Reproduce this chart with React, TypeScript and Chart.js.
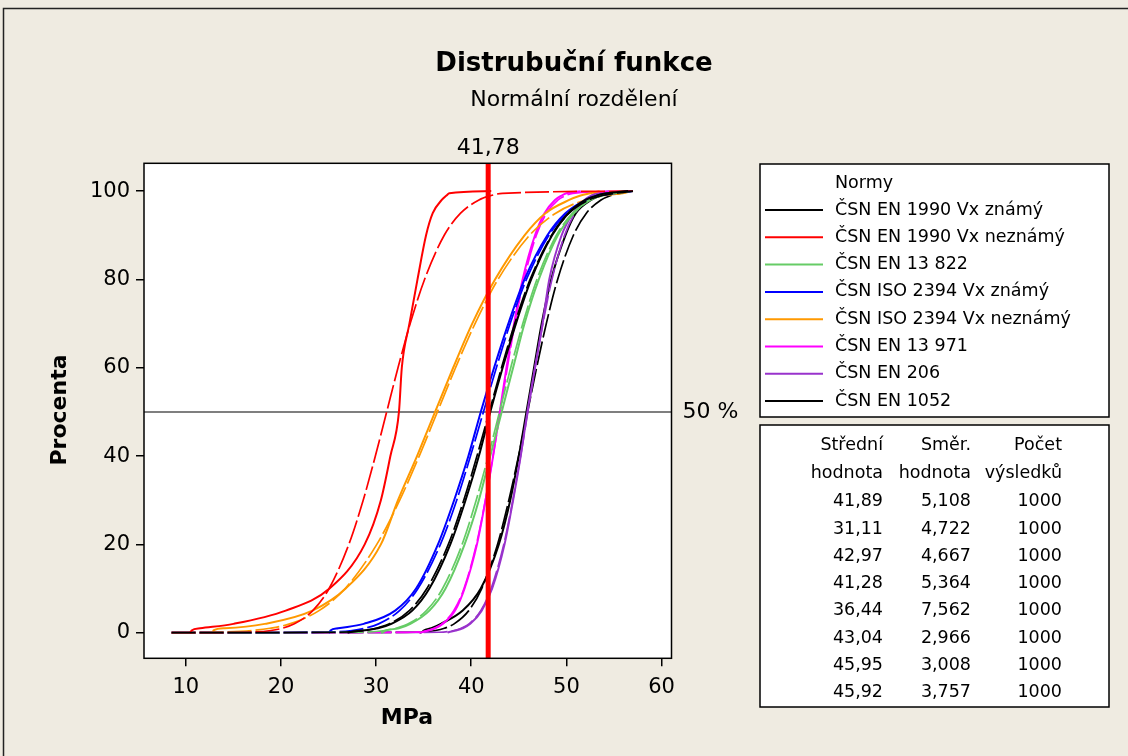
import React, { useEffect, useRef } from "react";
import { Chart, registerables } from "chart.js";

Chart.register(...registerables);

// ---------------- data ----------------
const pctLevels = [0, 0.1, 0.5, 1, 2, 5, 10, 20, 30, 40, 50, 60, 70, 80, 90, 95, 98, 99, 99.5, 100];

const seriesNames = [
  "ČSN EN 1990 Vx známý",
  "ČSN EN 1990 Vx neznámý",
  "ČSN EN 13 822",
  "ČSN ISO 2394 Vx známý",
  "ČSN ISO 2394 Vx neznámý",
  "ČSN EN 13 971",
  "ČSN EN 206",
  "ČSN EN 1052",
];
const seriesColors = ["#000000", "#FF0000", "#66CC66", "#0000FF", "#FF9900", "#FF00FF", "#9933CC", "#000000"];

const meanValues = ["41,89", "31,11", "42,97", "41,28", "36,44", "43,04", "45,95", "45,92"];
const stdValues = ["5,108", "4,722", "4,667", "5,364", "7,562", "2,966", "3,008", "3,757"];
const countValues = ["1000", "1000", "1000", "1000", "1000", "1000", "1000", "1000"];

// fitted normal curves: MPa at each percent level
const fitBlack1 = [8.5, 26.11, 28.73, 30.01, 31.4, 33.49, 35.34, 37.59, 39.21, 40.6, 41.89, 43.18, 44.57, 46.19, 48.44, 50.29, 52.38, 53.77, 55.05, 57];
const fitRed = [8.5, 16.52, 18.95, 20.13, 21.41, 23.34, 25.06, 27.13, 28.64, 29.92, 31.11, 32.3, 33.58, 35.09, 37.16, 38.88, 40.81, 42.09, 43.27, 57];
const fitGreen = [8.5, 28.55, 30.95, 32.11, 33.38, 35.29, 36.99, 39.04, 40.52, 41.79, 42.97, 44.15, 45.42, 46.9, 48.95, 50.65, 52.56, 53.83, 54.99, 57];
const fitBlue = [8.5, 24.71, 27.46, 28.8, 30.26, 32.46, 34.4, 36.76, 38.47, 39.92, 41.28, 42.64, 44.09, 45.8, 48.16, 50.1, 52.3, 53.76, 55.1, 57];
const fitOrange = [8.5, 13.07, 16.96, 18.85, 20.91, 24.0, 26.75, 30.07, 32.48, 34.53, 36.44, 38.35, 40.4, 42.81, 46.13, 48.88, 51.97, 54.03, 55.92, 57];
const fitMagenta = [8.5, 33.87, 35.4, 36.14, 36.95, 38.16, 39.24, 40.54, 41.49, 42.29, 43.04, 43.79, 44.59, 45.54, 46.84, 47.92, 49.13, 49.94, 50.68, 57];
const fitPurple = [8.5, 36.66, 38.2, 38.95, 39.77, 41.0, 42.09, 43.42, 44.37, 45.19, 45.95, 46.71, 47.53, 48.48, 49.81, 50.9, 52.13, 52.95, 53.7, 57];
const fitBlack2 = [8.5, 34.31, 36.24, 37.18, 38.2, 39.74, 41.1, 42.76, 43.95, 44.97, 45.92, 46.87, 47.89, 49.08, 50.74, 52.1, 53.64, 54.66, 55.6, 57];

// empirical curves: MPa at each percent level
const empBlack1 = [27.0, 27.2, 28.6, 30.2, 31.6, 33.8, 35.6, 37.8, 39.4, 40.8, 42.0, 43.3, 44.7, 46.3, 48.5, 50.2, 52.0, 53.2, 54.2, 56.5];
const empRed = [10.4, 10.5, 10.6, 11.5, 15.0, 20.5, 25.1, 28.8, 30.5, 31.5, 32.4, 32.7, 33.5, 34.35, 35.25, 35.95, 36.9, 37.4, 37.7, 42.1];
const empGreen = [30.5, 30.7, 31.0, 32.4, 33.6, 35.6, 37.3, 39.3, 40.8, 42.0, 43.2, 44.4, 45.6, 47.1, 49.1, 50.8, 52.4, 53.5, 54.4, 56.0];
const empBlue = [25.0, 25.1, 25.2, 26.0, 28.7, 32.0, 34.2, 36.5, 38.2, 39.7, 41.0, 42.4, 43.9, 45.6, 48.0, 49.9, 52.0, 53.2, 54.3, 56.8];
const empOrange = [12.8, 12.85, 12.9, 14.1, 18.3, 23.3, 26.8, 30.5, 32.3, 34.3, 36.2, 38.1, 40.1, 42.5, 45.6, 47.8, 50.3, 51.5, 52.5, 53.5];
const empMagenta = [34.5, 34.8, 35.5, 36.2, 37.0, 38.3, 39.3, 40.6, 41.5, 42.3, 43.0, 43.7, 44.5, 45.4, 46.7, 47.7, 48.8, 49.5, 50.0, 51.5];
const empPurple = [37.5, 37.6, 38.4, 39.1, 39.9, 41.1, 42.2, 43.5, 44.4, 45.2, 45.9, 46.7, 47.5, 48.2, 49.5, 50.7, 51.9, 52.6, 53.2, 54.5];
const empBlack2 = [34.6, 34.8, 35.0, 35.8, 36.8, 39.1, 41.0, 42.9, 44.1, 45.0, 45.8, 46.6, 47.4, 48.4, 49.9, 51.0, 52.6, 53.6, 54.3, 56.5];

const fitSeries = [fitBlack1, fitRed, fitGreen, fitBlue, fitOrange, fitMagenta, fitPurple, fitBlack2];
const empSeries = [empBlack1, empRed, empGreen, empBlue, empOrange, empMagenta, empPurple, empBlack2];

const xTickValues = [10, 20, 30, 40, 50, 60];
const yTickValues = [0, 20, 40, 60, 80, 100];
const referenceX = 41.78;
const referenceLabel = "41,78";
const referencePct = 50;
const referencePctLabel = "50 %";

const titleText = "Distrubuční funkce";
const subtitleText = "Normální rozdělení";
const xTitle = "MPa";
const yTitle = "Procenta";
const legendTitle = "Normy";
const tableHead1 = ["Střední", "Směr.", "Počet"];
const tableHead2 = ["hodnota", "hodnota", "výsledků"];

// ---------------- styling ----------------
const FONT = "'DejaVu Sans', sans-serif";
const BG = "#EFEBE1";
const W = 1128;
const H = 756;
const PLOT = { left: 144, right: 671.5, top: 163.3, bottom: 658.3 };

const toPoints = (xs: number[]) => xs.map((x, i) => ({ x, y: pctLevels[i] }));

const decorPlugin = {
  id: "decor",
  beforeDraw(chart: any) {
    const { ctx, chartArea: a } = chart;
    ctx.save();
    ctx.fillStyle = BG;
    ctx.fillRect(0, 0, chart.width, chart.height);
    ctx.fillStyle = "#FFFFFF";
    ctx.fillRect(a.left, a.top, a.right - a.left, a.bottom - a.top);
    ctx.restore();
  },
  beforeDatasetsDraw(chart: any) {
    const { ctx, chartArea: a } = chart;
    const y = chart.scales.y.getPixelForValue(referencePct);
    ctx.save();
    ctx.strokeStyle = "#555555";
    ctx.lineWidth = 1.5;
    ctx.beginPath();
    ctx.moveTo(a.left, y);
    ctx.lineTo(a.right, y);
    ctx.stroke();
    ctx.restore();
  },
  afterDatasetsDraw(chart: any) {
    const { ctx, chartArea: a } = chart;
    const x = chart.scales.x.getPixelForValue(referenceX);
    ctx.save();
    ctx.strokeStyle = "#FF0000";
    ctx.lineWidth = 5;
    ctx.beginPath();
    ctx.moveTo(x, a.top);
    ctx.lineTo(x, a.bottom);
    ctx.stroke();
    ctx.strokeStyle = "#000000";
    ctx.lineWidth = 1.5;
    ctx.strokeRect(a.left, a.top, a.right - a.left, a.bottom - a.top);
    ctx.restore();
  },
  afterDraw(chart: any) {
    const { ctx, chartArea: a } = chart;
    ctx.save();
    ctx.fillStyle = "#000000";
    ctx.textAlign = "center";
    ctx.textBaseline = "middle";
    ctx.font = `bold 26px ${FONT}`;
    ctx.fillText(titleText, 574, 64);
    ctx.font = `22px ${FONT}`;
    ctx.fillText(subtitleText, 574, 100);
    const rx = chart.scales.x.getPixelForValue(referenceX);
    ctx.fillText(referenceLabel, rx, 148);
    ctx.textAlign = "left";
    ctx.fillText(referencePctLabel, a.right + 11, chart.scales.y.getPixelForValue(referencePct));
    ctx.textAlign = "center";
    ctx.font = `bold 22px ${FONT}`;
    ctx.fillText(xTitle, 407, 718);
    ctx.save();
    ctx.translate(60, 410);
    ctx.rotate(-Math.PI / 2);
    ctx.fillText(yTitle, 0, 0);
    ctx.restore();

    // legend box
    ctx.fillStyle = "#FFFFFF";
    ctx.fillRect(760, 164, 349, 253);
    ctx.strokeStyle = "#000000";
    ctx.lineWidth = 1.5;
    ctx.strokeRect(760, 164, 349, 253);
    ctx.fillStyle = "#000000";
    ctx.font = `17.5px ${FONT}`;
    ctx.textAlign = "left";
    ctx.fillText(legendTitle, 835, 183);
    seriesNames.forEach((name, i) => {
      const y = 210 + 27.3 * i;
      ctx.strokeStyle = seriesColors[i];
      ctx.lineWidth = 2;
      ctx.beginPath();
      ctx.moveTo(765, y);
      ctx.lineTo(823, y);
      ctx.stroke();
      ctx.fillStyle = "#000000";
      ctx.fillText(name, 835, y);
    });

    // table box
    ctx.fillStyle = "#FFFFFF";
    ctx.fillRect(760, 425, 349, 282);
    ctx.strokeStyle = "#000000";
    ctx.lineWidth = 1.5;
    ctx.strokeRect(760, 425, 349, 282);
    ctx.fillStyle = "#000000";
    ctx.textAlign = "right";
    const colRight = [883, 971, 1062];
    tableHead1.forEach((t, j) => ctx.fillText(t, colRight[j], 445));
    tableHead2.forEach((t, j) => ctx.fillText(t, colRight[j], 473));
    meanValues.forEach((m, i) => {
      const y = 501.7 + 27.3 * i;
      ctx.fillText(m, colRight[0], y);
      ctx.fillText(stdValues[i], colRight[1], y);
      ctx.fillText(countValues[i], colRight[2], y);
    });

    // outer frame
    ctx.strokeStyle = "#222222";
    ctx.lineWidth = 1.5;
    ctx.beginPath();
    ctx.moveTo(3.5, H);
    ctx.lineTo(3.5, 8.5);
    ctx.lineTo(W, 8.5);
    ctx.stroke();
    ctx.restore();
  },
};

export default function App() {
  const ref = useRef<HTMLCanvasElement | null>(null);

  useEffect(() => {
    if (!ref.current) return;
    const datasets: any[] = [];
    seriesNames.forEach((name, i) => {
      datasets.push({
        label: name,
        data: toPoints(empSeries[i]),
        borderColor: seriesColors[i],
        borderWidth: 2,
        pointRadius: 0,
        fill: false,
        cubicInterpolationMode: "monotone",
      });
      datasets.push({
        label: name + " fit",
        data: toPoints(fitSeries[i]),
        borderColor: seriesColors[i],
        borderWidth: 1.7,
        borderDash: [24, 4],
        pointRadius: 0,
        fill: false,
        cubicInterpolationMode: "monotone",
      });
    });

    const chart = new Chart(ref.current, {
      type: "line",
      data: { datasets },
      plugins: [decorPlugin],
      options: {
        animation: false,
        responsive: false,
        events: [],
        layout: { padding: { left: 0, top: PLOT.top, right: W - PLOT.right, bottom: 0 } },
        plugins: { legend: { display: false }, tooltip: { enabled: false }, title: { display: false } },
        scales: {
          x: {
            type: "linear",
            min: 5.6,
            max: 61.05,
            afterFit: (s: any) => { s.height = H - PLOT.bottom; },
            afterBuildTicks: (s: any) => { s.ticks = xTickValues.map((v) => ({ value: v })); },
            ticks: { font: { family: FONT, size: 21 }, color: "#000", padding: 9, maxRotation: 0, callback: (v: any) => String(v) },
            grid: { drawOnChartArea: false, drawTicks: true, tickLength: 8, color: "#000", lineWidth: 1.5 },
            border: { display: false },
          },
          y: {
            type: "linear",
            min: -5.8,
            max: 106.3,
            afterFit: (s: any) => { s.width = PLOT.left; },
            afterBuildTicks: (s: any) => { s.ticks = yTickValues.map((v) => ({ value: v })); },
            ticks: { font: { family: FONT, size: 21 }, color: "#000", padding: 6, callback: (v: any) => String(v) },
            grid: { drawOnChartArea: false, drawTicks: true, tickLength: 8, color: "#000", lineWidth: 1.5 },
            border: { display: false },
          },
        },
      } as any,
    });
    return () => chart.destroy();
  }, []);

  return (
    <div style={{ position: "fixed", left: 0, top: 0, width: W, height: H, background: BG }}>
      <canvas ref={ref} width={W} height={H} style={{ width: W, height: H, display: "block" }} />
    </div>
  );
}
